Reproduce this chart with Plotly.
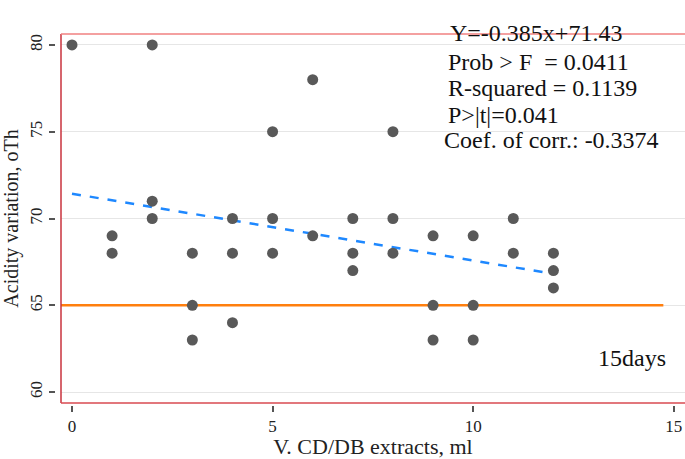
import plotly.graph_objects as go

# Data
x_vals = [0, 1, 1, 2, 2, 2, 3, 3, 3, 4, 4, 4, 5, 5, 5, 6, 6,
          7, 7, 7, 8, 8, 8, 9, 9, 9, 10, 10, 10, 11, 11, 12, 12, 12]
y_vals = [80, 69, 68, 80, 71, 70, 68, 65, 63, 70, 68, 64, 75, 70, 68, 78, 69,
          70, 68, 67, 75, 70, 68, 69, 65, 63, 69, 65, 63, 70, 68, 68, 67, 66]
slope = -0.385
intercept = 71.43
fit_x = [0, 12]
ref_level = 65
ref_x = [-0.274, 14.74]
x_ticks = [0, 5, 10, 15]
y_ticks = [60, 65, 70, 75, 80]
stats_lines = ["Y=-0.385x+71.43", "Prob > F  = 0.0411", "R-squared = 0.1139",
               "P>|t|=0.041", "Coef. of corr.: -0.3374"]

serif = "Liberation Serif, Times New Roman, serif"

fig = go.Figure()
fig.add_trace(go.Scatter(x=ref_x, y=[ref_level, ref_level], mode="lines",
                         line=dict(color="#ff7f0e", width=2.5), hoverinfo="skip"))
fig.add_trace(go.Scatter(x=fit_x, y=[slope * v + intercept for v in fit_x], mode="lines",
                         line=dict(color="#1e88ff", width=2.5, dash="dash")))
fig.add_trace(go.Scatter(x=x_vals, y=y_vals, mode="markers",
                         marker=dict(color="#595959", size=11)))

L, B, T = 55, 54, 34
W, H = 685, 459
pw, ph = W - L, H - B - T
xdom0 = (61 - L) / pw
ydom0 = (405 - 403) / ph

fig.update_layout(
    width=W, height=H, showlegend=False,
    margin=dict(l=L, r=0, t=T, b=B),
    plot_bgcolor="white", paper_bgcolor="white",
    font=dict(family=serif, color="#222"),
    xaxis=dict(domain=[xdom0, 1], anchor="free", position=0,
               range=[-0.274, 15.28], tickvals=x_ticks, ticks="outside",
               ticklen=6, tickcolor="#555", tickwidth=1.5, showgrid=False,
               zeroline=False, showline=False,
               tickfont=dict(size=17, family=serif, color="#222"),
               title=dict(text="V. CD/DB extracts, ml", font=dict(size=22, family=serif, color="#222"),
                          standoff=8)),
    yaxis=dict(domain=[ydom0, 1], anchor="free", position=0,
               range=[59.37, 80.63], tickvals=y_ticks, ticks="outside",
               ticklen=6, tickcolor="#555", tickwidth=1.5, tickangle=-90,
               showgrid=True, gridcolor="#e6e6e6", gridwidth=1,
               zeroline=False, showline=False,
               tickfont=dict(size=17, family=serif, color="#222"),
               title=dict(text="Acidity variation, oTh", font=dict(size=20, family=serif, color="#222"),
                          standoff=2)),
)

# red frame lines
fig.add_shape(type="line", xref="paper", yref="paper", x0=xdom0, x1=xdom0, y0=ydom0, y1=1,
              line=dict(color="#c8323c", width=1.5))
fig.add_shape(type="line", xref="paper", yref="paper", x0=xdom0, x1=1, y0=1, y1=1,
              line=dict(color="#f08080", width=1.5))
fig.add_shape(type="line", xref="paper", yref="paper", x0=xdom0, x1=1, y0=ydom0, y1=ydom0,
              line=dict(color="#d84a50", width=1.5))

ys = [33, 62, 88, 115, 140]
xs = [448, 446, 446, 446, 442]
for txt, yy, xx in zip(stats_lines, ys, xs):
    fig.add_annotation(xref="paper", yref="paper", x=(xx - L) / pw, y=(H - B - yy) / ph,
                       text=txt, showarrow=False, xanchor="left", yanchor="middle",
                       font=dict(size=24, family=serif, color="#111"))
fig.add_annotation(xref="paper", yref="paper", x=(668 - L) / pw, y=(H - B - 358) / ph,
                   text="15days", showarrow=False, xanchor="right", yanchor="middle",
                   font=dict(size=24, family=serif, color="#111"))

fig.write_html("out.html")
